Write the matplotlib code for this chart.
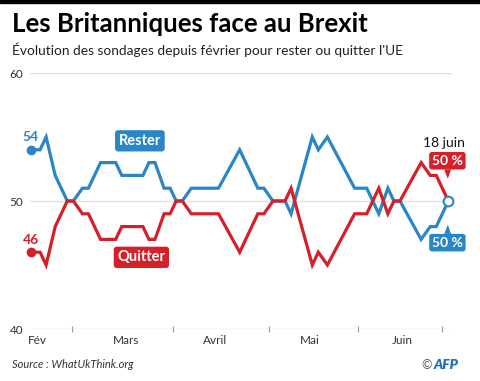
import matplotlib.pyplot as plt
from matplotlib.patches import Rectangle

# day offsets from 1 February (poll-of-polls points)
days = [0, 3, 5, 8, 12, 14, 17, 19, 23, 28, 30, 37, 39, 41, 44, 46, 48, 50, 53, 62,
        69, 75, 77, 80, 84, 86, 93, 95, 98, 107, 111, 115, 118, 120, 122, 129, 132, 134, 138]
rester = [54, 54, 55, 52, 50, 50, 51, 51, 53, 53, 52, 52, 53, 53, 51, 51, 50, 50, 51, 51,
          54, 51, 51, 50, 50, 49, 55, 54, 55, 51, 51, 49, 51, 50, 50, 47, 48, 48, 50]
quitter = [46, 46, 45, 48, 50, 50, 49, 49, 47, 47, 48, 48, 47, 47, 49, 49, 50, 50, 49, 49,
           46, 49, 49, 50, 50, 51, 45, 46, 45, 49, 49, 51, 49, 50, 50, 53, 52, 52, 50]

month_labels = ['Fév', 'Mars', 'Avril', 'Mai', 'Juin']
month_label_days = [2, 31.4, 60.8, 92.3, 122.7]
month_tick_days = [13.6, 47, 78.7, 108.1, 135.9]
y_ticks = [40, 50, 60]

BLUE = '#2a86c5'
RED = '#d5202a'

plt.rcParams['font.family'] = ['Lato', 'DejaVu Sans']

fig = plt.figure(figsize=(4.8, 3.81), dpi=100)
fig.patches.append(Rectangle((0, 1 - 3 / 381), 1, 3 / 381, transform=fig.transFigure,
                             color='black', zorder=10))

ax = fig.add_axes([30 / 480, 52 / 381, 422 / 480, 256 / 381])
ax.set_xlim(-0.33, 139.2)
ax.set_ylim(40, 60)

for s in ax.spines.values():
    s.set_visible(False)
ax.set_yticks(y_ticks)
ax.set_yticklabels([str(v) for v in y_ticks])
ax.grid(axis='y', color='#e0e0e0', lw=1)
ax.tick_params(axis='y', length=0, pad=5, labelsize=8.5, labelcolor='#333333')
ax.set_axisbelow(True)

ax.set_xticks(month_label_days)
ax.set_xticklabels(month_labels)
ax.set_xticks(month_tick_days, minor=True)
ax.tick_params(axis='x', which='major', length=0, pad=4, labelsize=8.5, labelcolor='#333333')
ax.tick_params(axis='x', which='minor', length=5, width=0.8, color='#999999', direction='inout')

ax.plot(days, rester, color=BLUE, lw=2.3, solid_joinstyle='miter', clip_on=False, zorder=3)
ax.plot(days, quitter, color=RED, lw=2.3, solid_joinstyle='miter', clip_on=False, zorder=4)
ax.plot(days[0], rester[0], 'o', color=BLUE, ms=6, clip_on=False, zorder=5)
ax.plot(days[0], quitter[0], 'o', color=RED, ms=6, clip_on=False, zorder=5)
ax.plot(days[-1], rester[-1], 'o', mfc='white', mec=BLUE, ms=7, mew=1.5, clip_on=False, zorder=6)

ax.annotate(str(rester[0]), (days[0], rester[0]), xytext=(0, 9), textcoords='offset points',
            ha='center', va='center', color=BLUE, fontsize=10, fontweight='bold')
ax.annotate(str(quitter[0]), (days[0], quitter[0]), xytext=(0, 9), textcoords='offset points',
            ha='center', va='center', color=RED, fontsize=10, fontweight='bold')

ax.text(36, 54.7, 'Rester', color='white', fontsize=10.5, fontweight='bold', ha='center',
        va='center', bbox=dict(boxstyle='round,pad=0.25,rounding_size=0.2', fc=BLUE, ec='none'))
ax.text(36.5, 45.6, 'Quitter', color='white', fontsize=10.5, fontweight='bold', ha='center',
        va='center', bbox=dict(boxstyle='round,pad=0.25,rounding_size=0.2', fc=RED, ec='none'))

ax.annotate('18 juin', (days[-1], quitter[-1]), xytext=(-3, 42), textcoords='offset points',
            ha='center', va='center', fontsize=10, color='#111111', annotation_clip=False)
ax.annotate(f'{quitter[-1]} %', (days[-1], quitter[-1]), xytext=(-0.7, 29), textcoords='offset points',
            ha='center', va='center', fontsize=10, fontweight='bold', color='white',
            annotation_clip=False,
            bbox=dict(boxstyle='round,pad=0.2,rounding_size=0.2', fc=RED, ec='none'),
            arrowprops=dict(arrowstyle='wedge,tail_width=0.5', fc=RED, ec='none',
                            shrinkA=0, shrinkB=16))
ax.annotate(f'{rester[-1]} %', (days[-1], rester[-1]), xytext=(-0.7, -30), textcoords='offset points',
            ha='center', va='center', fontsize=10, fontweight='bold', color='white',
            annotation_clip=False,
            bbox=dict(boxstyle='round,pad=0.2,rounding_size=0.2', fc=BLUE, ec='none'),
            arrowprops=dict(arrowstyle='wedge,tail_width=0.5', fc=BLUE, ec='none',
                            shrinkA=0, shrinkB=17))

fig.text(12 / 480, 1 - 24 / 381, 'Les Britanniques face au Brexit', fontsize=18.5,
         fontweight='bold', va='center', ha='left', color='black')
fig.text(12 / 480, 1 - 50 / 381, "Évolution des sondages depuis février pour rester ou quitter l'UE",
         fontsize=9.9, va='center', ha='left', color='#222222')
fig.text(12 / 480, 1 - 365 / 381, 'Source : WhatUkThink.org', fontsize=8, style='italic',
         va='center', ha='left', color='#333333')
fig.text(432 / 480, 1 - 365 / 381, '©', fontsize=9, va='center', ha='right', color='#555555')
fig.text(434 / 480, 1 - 365 / 381, 'AFP', fontsize=10, fontweight='heavy', style='italic',
         va='center', ha='left', color='#1d6fb8')

fig.savefig('out.png', dpi=100)
